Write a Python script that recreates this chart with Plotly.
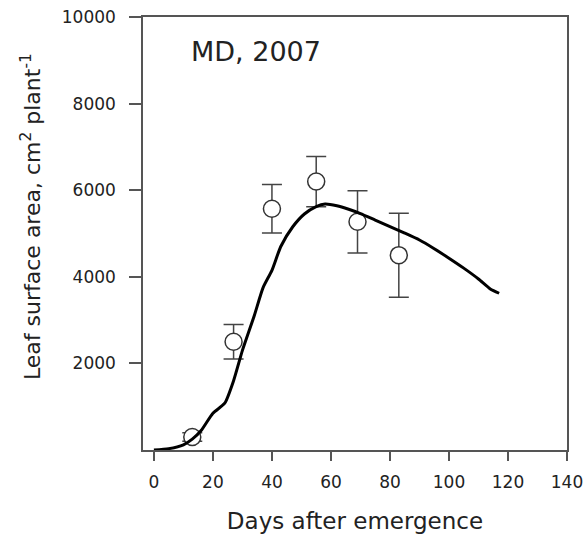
import plotly.graph_objects as go

# Observed leaf surface area (mean ± error) by days after emergence
obs_days = [13, 27, 40, 55, 69, 83]
obs_area = [300, 2500, 5570, 6200, 5270, 4500]
obs_err = [100, 400, 560, 580, 720, 970]

# Simulated leaf surface area
sim_days = [0, 5, 10, 13, 16, 20, 24, 27, 30, 34, 37, 40, 43, 47, 51, 55, 58,
            62, 66, 70, 75, 80, 85, 90, 95, 100, 105, 110, 114, 117]
sim_area = [0, 30, 120, 250, 450, 850, 1080, 1600, 2300, 3100, 3750, 4150, 4700,
            5150, 5450, 5620, 5680, 5640, 5560, 5460, 5310, 5160, 5010, 4850,
            4650, 4430, 4200, 3950, 3720, 3620]

x_ticks = [0, 20, 40, 60, 80, 100, 120, 140]
y_ticks = [2000, 4000, 6000, 8000, 10000]
y_tick_text = ["2000", "4000", "6000", "8000", "10000"]

font_family = "DejaVu Sans, Verdana, sans-serif"
ink = "#222222"
frame = "#555555"

fig = go.Figure()

fig.add_trace(go.Scatter(
    x=obs_days, y=obs_area, mode="markers",
    marker=dict(symbol="circle", size=17, color="white",
                line=dict(color="#333333", width=1.5)),
    error_y=dict(type="data", array=obs_err, visible=True,
                 color="#444444", thickness=1.5, width=10),
    showlegend=False,
))

fig.add_trace(go.Scatter(
    x=sim_days, y=sim_area, mode="lines",
    line=dict(color="black", width=3, shape="spline", smoothing=0.6),
    showlegend=False,
))

fig.add_annotation(
    x=12, y=9200, xref="x", yref="y", text="MD, 2007", showarrow=False,
    xanchor="left", yanchor="middle",
    font=dict(family=font_family, size=27, color=ink),
)

# Vertical axis title, placed as a rotated annotation
fig.add_annotation(
    x=0, y=0.538, xref="paper", yref="paper", xshift=-112,
    text="Leaf surface area, cm<sup>2</sup> plant<sup>-1</sup>",
    textangle=-90, showarrow=False, xanchor="center", yanchor="middle",
    font=dict(family=font_family, size=22, color=ink),
)

fig.update_xaxes(
    range=[-3.7, 140], tickvals=x_ticks, ticks="outside", ticklen=9,
    tickwidth=1.5, tickcolor=frame, showline=True, linecolor=frame,
    linewidth=1.5, mirror=True, showgrid=False, zeroline=False,
    automargin=False, ticklabelstandoff=7, ticklabeloverflow="allow",
    tickfont=dict(family=font_family, size=17, color=ink),
    title=dict(text="Days after emergence", standoff=22,
               font=dict(family=font_family, size=23, color=ink)),
)
fig.update_yaxes(
    range=[0, 10000], tickvals=y_ticks, ticktext=y_tick_text,
    ticks="outside", ticklen=12,
    tickwidth=1.5, tickcolor=frame, showline=True, linecolor=frame,
    linewidth=1.5, mirror=True, showgrid=False, zeroline=False,
    automargin=False, ticklabelstandoff=10, ticklabeloverflow="allow",
    tickfont=dict(family=font_family, size=17, color=ink),
)

fig.update_layout(
    width=583, height=535,
    margin=dict(l=143, r=16, t=17, b=85),
    plot_bgcolor="white", paper_bgcolor="white",
)

fig.write_html("out.html")
